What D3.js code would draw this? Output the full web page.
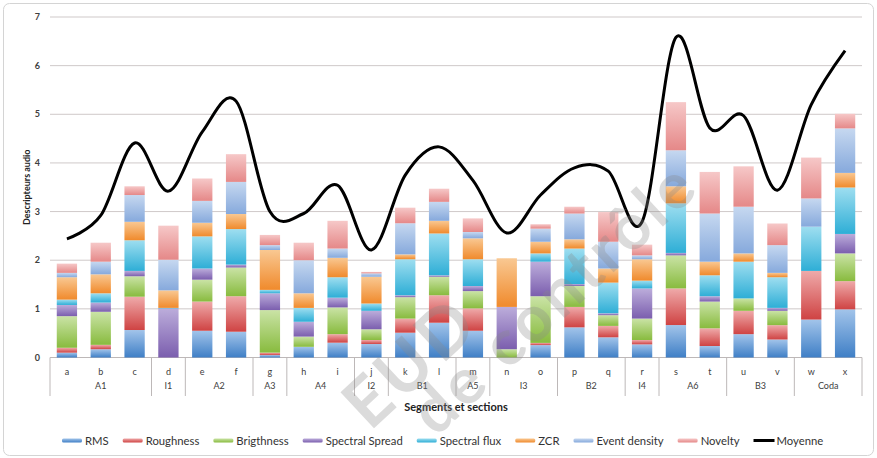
<!DOCTYPE html>
<html><head><meta charset="utf-8">
<script src="https://cdn.jsdelivr.net/npm/d3@7"></script>
<style>body{margin:0;background:#fff}svg{display:block}text{font-family:Lato,"Open Sans",sans-serif}</style>
</head><body><svg id="c" width="877" height="458"></svg>
<script>
const categories = ["a","b","c","d","e","f","g","h","i","j","k","l","m","n","o","p","q","r","s","t","u","v","w","x"];
const groupNames = ["A1","I1","A2","A3","A4","I2","B1","A5","I3","B2","I4","A6","B3","Coda"];
const groupSizes = [3,1,2,1,2,1,2,1,2,2,1,2,2,2];
const seriesNames = ["RMS","Roughness","Brigthness","Spectral Spread","Spectral flux","ZCR","Event density","Novelty"];
const rms        = [0.10,0.17,0.565,0,0.55,0.53,0.05,0.22,0.305,0.277,0.51,0.715,0.55,0,0.255,0.62,0.415,0.27,0.667,0.236,0.48,0.37,0.78,0.99];
const roughness  = [0.10,0.09,0.685,0,0.60,0.73,0.05,0,0.175,0.083,0.29,0.565,0.46,0,0.045,0.42,0.235,0.09,0.753,0.364,0.48,0.295,1.0,0.58];
const brigthness = [0.65,0.68,0.42,0,0.45,0.59,0.875,0.21,0.55,0.22,0.44,0.38,0.355,0.17,0.96,0.43,0.22,0.44,0.68,0.55,0.255,0.295,0,0.57];
const spread     = [0.23,0.19,0.11,1.01,0.23,0.06,0.345,0.305,0.20,0.38,0.04,0.03,0.105,0.87,0.71,0.04,0.04,0.62,0.05,0.11,0,0.06,0,0.40];
const flux       = [0.11,0.19,0.63,0.01,0.66,0.73,0.07,0.285,0.42,0.15,0.74,0.86,0.55,0,0.17,0.73,0.63,0.16,1.02,0.43,0.755,0.63,0.91,0.955];
const zcr        = [0.46,0.39,0.38,0.36,0.28,0.31,0.82,0.30,0.40,0.55,0.10,0.26,0.43,1.0,0.24,0.19,0.29,0.44,0.35,0.28,0.17,0.09,0,0.30];
const eventDensity = [0.09,0.26,0.55,0.63,0.45,0.66,0.10,0.68,0.19,0.07,0.64,0.39,0.13,0,0.27,0.53,0.55,0.08,0.74,0.99,0.96,0.57,0.58,0.915];
const novelty    = [0.19,0.39,0.18,0.70,0.46,0.57,0.21,0.36,0.57,0.03,0.32,0.27,0.28,0,0.09,0.14,0.61,0.22,0.99,0.855,0.83,0.445,0.84,0.30];
const moyenne    = [2.44,2.92,4.41,3.42,4.64,5.27,3.0,2.96,3.54,2.21,3.75,4.33,3.64,2.56,3.34,3.90,3.83,2.79,6.58,4.72,4.97,3.44,5.2,6.31];
const yTicks = [0,1,2,3,4,5,6,7];

const seriesData = [rms,roughness,brigthness,spread,flux,zcr,eventDensity,novelty];
const baseColors  = ["#3f7fc6","#cf4343","#88bb3e","#7b5eae","#2eaed6","#f08a2c","#86a9dc","#e58888"];
const lightColors = ["#a2c4ea","#efaaaa","#cae3a6","#bcaddb","#9edef0","#f9c892","#c6d8f0","#f6c8c8"];

const svg = d3.select("#c");
const W = 877, H = 458;
const L = 50, R = 862, T = 17, B = 357.5;

svg.append("rect").attr("x",3.5).attr("y",3.5).attr("width",W-7).attr("height",H-6)
  .attr("rx",6).attr("fill","#fff").attr("stroke","#d4d4d4");

const defs = svg.append("defs");
seriesNames.forEach((s,i)=>{
  const g = defs.append("linearGradient").attr("id","g"+i).attr("x1",0).attr("y1",0).attr("x2",0).attr("y2",1);
  g.append("stop").attr("offset","0%").attr("stop-color",lightColors[i]);
  g.append("stop").attr("offset","100%").attr("stop-color",baseColors[i]);
});

const x = d3.scaleBand().domain(categories).range([L,R]).paddingInner(0.4).paddingOuter(0.2);
const xb = d3.scaleBand().domain(categories).range([L,R]).padding(0);
const y = d3.scaleLinear().domain([0,7]).range([B,T]);

// gridlines
svg.append("g").selectAll("line").data(yTicks).join("line")
  .attr("x1",L).attr("x2",R).attr("y1",d=>y(d)).attr("y2",d=>y(d))
  .attr("stroke",d=>d===0?"#bdb8b8":"#cfc9c9").attr("stroke-width",1);

// y tick labels
svg.append("g").selectAll("text").data(yTicks).join("text")
  .attr("x",40).attr("y",d=>y(d)+3).attr("text-anchor","end")
  .attr("font-size",9).attr("font-weight","bold").attr("fill","#404040").text(d=>d);

svg.append("text").attr("transform",`translate(30,${(T+B)/2}) rotate(-90)`)
  .attr("text-anchor","middle").attr("font-size",9).attr("font-weight","bold").attr("fill","#222")
  .text("Descripteurs audio");

// stacked bars
const table = categories.map((c,j)=>{
  const o = {cat:c};
  seriesNames.forEach((s,i)=>o[s]=seriesData[i][j]);
  return o;
});
const stacked = d3.stack().keys(seriesNames)(table);
const bars = svg.append("g");
stacked.forEach((layer,i)=>{
  bars.append("g").attr("fill",`url(#g${i})`).selectAll("rect").data(layer.filter(d=>d[1]-d[0]>0)).join("rect")
    .attr("x",d=>x(d.data.cat)).attr("width",x.bandwidth())
    .attr("y",d=>y(d[1])).attr("height",d=>y(d[0])-y(d[1]));
});

// line
const line = d3.line().x((d,i)=>x(categories[i])+x.bandwidth()/2).y(d=>y(d)).curve(d3.curveCardinal.tension(0));
svg.append("path").datum(moyenne).attr("d",line).attr("fill","none").attr("stroke","#000").attr("stroke-width",3);

// category axis
const ax = svg.append("g");
ax.selectAll("text.cat").data(categories).join("text").attr("class","cat")
  .attr("x",d=>xb(d)+xb.bandwidth()/2).attr("y",375).attr("text-anchor","middle")
  .attr("font-size",9).attr("fill","#404040").text(d=>d);
let idx = 0;
const bounds = [L];
const groups = groupNames.map((g,k)=>{
  const first = categories[idx], last = categories[idx+groupSizes[k]-1];
  idx += groupSizes[k];
  const x0 = xb(first), x1 = xb(last)+xb.bandwidth();
  bounds.push(x1);
  return {name:g,cx:(x0+x1)/2};
});
ax.selectAll("line").data(bounds).join("line")
  .attr("x1",d=>d).attr("x2",d=>d).attr("y1",B).attr("y2",396)
  .attr("stroke","#bdb8b8");
ax.selectAll("text.grp").data(groups).join("text").attr("class","grp")
  .attr("x",d=>d.cx).attr("y",389).attr("text-anchor","middle")
  .attr("font-size",9).attr("fill","#404040").text(d=>d.name);

svg.append("text").attr("x",(L+R)/2).attr("y",411).attr("text-anchor","middle")
  .attr("font-size",11).attr("font-weight","bold").attr("fill","#222").text("Segments et sections");

// legend
const legNames = seriesNames.concat(["Moyenne"]);
let lx = 62;
const lg = svg.append("g");
legNames.forEach((n,i)=>{
  if(i<8){
    lg.append("rect").attr("x",lx).attr("y",438.5).attr("width",20).attr("height",4).attr("rx",1.5).attr("fill",`url(#g${i})`);
  } else {
    lg.append("rect").attr("x",lx).attr("y",439).attr("width",21).attr("height",3).attr("fill","#000");
  }
  const t = lg.append("text").attr("x",lx+23).attr("y",444.5).attr("font-size",11.3).attr("fill","#333").text(n);
  lx += 23 + t.node().getComputedTextLength() + 14;
});

// watermark
const wm = svg.append("g").attr("fill","#8a8a8a").attr("opacity",0.3).attr("font-weight","bold");
wm.append("text").attr("transform","translate(370,432) rotate(-43)").attr("font-size",68)
  .attr("textLength",150).attr("lengthAdjust","spacing").text("EUD");
wm.append("text").attr("transform","translate(436,438) rotate(-43)").attr("font-size",64)
  .attr("textLength",360).attr("lengthAdjust","spacing").text("de contrôle");
</script></body></html>
